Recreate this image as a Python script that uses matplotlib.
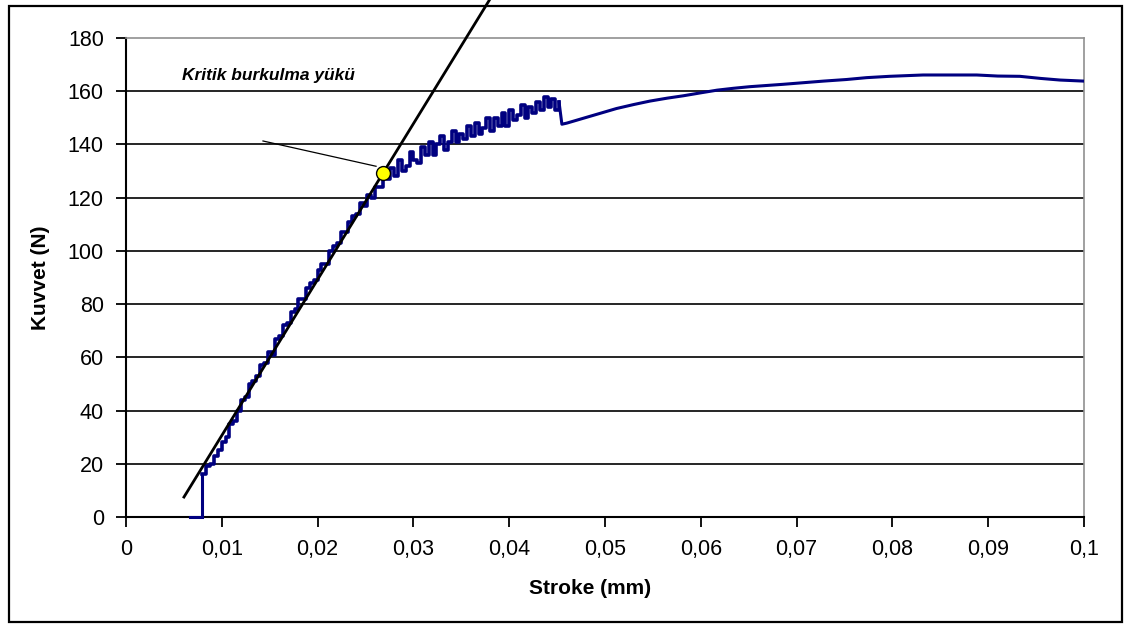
import matplotlib
matplotlib.use("Agg")
import matplotlib.pyplot as plt
from matplotlib.patches import Rectangle

plt.rcParams['font.family'] = ['Liberation Sans', 'DejaVu Sans']

# ---- data ----
zero_stroke = [0.0067, 0.0079]
zero_force = [0.0, 0.0]

rise_stroke = [0.0080, 0.0084, 0.0088, 0.0092, 0.0096, 0.0100, 0.0104, 0.0108, 0.0112, 0.0116,
               0.0120, 0.0124, 0.0128, 0.0132, 0.0136, 0.0140, 0.0144, 0.0148, 0.0152, 0.0156,
               0.0160, 0.0164, 0.0168, 0.0172, 0.0176, 0.0180, 0.0184, 0.0188, 0.0192, 0.0196,
               0.0200, 0.0204, 0.0208, 0.0212, 0.0216, 0.0220, 0.0224, 0.0228, 0.0232, 0.0236,
               0.0240, 0.0244, 0.0248, 0.0252, 0.0256, 0.0260, 0.0264, 0.0268, 0.0272, 0.0276,
               0.0280, 0.0284, 0.0288, 0.0292, 0.0296, 0.0300, 0.0304, 0.0308, 0.0312, 0.0316,
               0.0320, 0.0324, 0.0328, 0.0332, 0.0336, 0.0340, 0.0344, 0.0348, 0.0352, 0.0356,
               0.0360, 0.0364, 0.0368, 0.0372, 0.0376, 0.0380, 0.0384, 0.0388, 0.0392, 0.0396,
               0.0400, 0.0404, 0.0408, 0.0412, 0.0416, 0.0420, 0.0424, 0.0428, 0.0432, 0.0436,
               0.0440, 0.0444, 0.0448, 0.0452]
rise_force = [16, 19, 20, 23, 25, 28, 30, 35, 36, 40,
              44, 45, 50, 51, 53, 57, 58, 62, 61, 67,
              68, 72, 73, 77, 78, 82, 82, 86, 88, 89,
              93, 95, 95, 100, 102, 103, 107, 107, 111, 113,
              114, 118, 117, 121, 120, 124, 124, 128, 127, 131,
              128, 134, 130, 132, 137, 134, 133, 139, 136, 141,
              136, 140, 143, 138, 141, 145, 141, 144, 142, 147,
              143, 148, 144, 146, 150, 145, 150, 147, 152, 147,
              153, 149, 151, 155, 150, 154, 152, 156, 153, 158,
              154, 157, 153, 156]

post_stroke = [0.0455, 0.0460, 0.0477, 0.0495, 0.0512, 0.0530, 0.0547, 0.0565, 0.0582, 0.0600,
               0.0617, 0.0634, 0.0651, 0.0686, 0.0728, 0.0752, 0.0773, 0.0797, 0.0832, 0.0888,
               0.0910, 0.0933, 0.0955, 0.0975, 0.1000]
post_force = [147.6, 148.0, 149.8, 151.7, 153.5, 155.0, 156.3, 157.4, 158.3, 159.4,
              160.4, 161.1, 161.7, 162.6, 163.8, 164.4, 165.1, 165.6, 166.1, 166.1,
              165.7, 165.6, 164.8, 164.2, 163.8]

fit_stroke = [0.00605, 0.0384]
fit_force = [7.5, 197.0]

crit_stroke = 0.0268
crit_force = 129.3
leader_stroke = [0.0143, 0.0261]
leader_force = [141.3, 131.8]
label_text = "Kritik burkulma yükü"
label_stroke = 0.00582
label_force = 164.2

x_ticks = [0, 0.01, 0.02, 0.03, 0.04, 0.05, 0.06, 0.07, 0.08, 0.09, 0.1]
x_tick_labels = ["0", "0,01", "0,02", "0,03", "0,04", "0,05", "0,06", "0,07", "0,08", "0,09", "0,1"]
y_ticks = [0, 20, 40, 60, 80, 100, 120, 140, 160, 180]

# ---- figure ----
fig = plt.figure(figsize=(11.28, 6.24), dpi=100)
ax = fig.add_axes([126 / 1128, 1 - 517 / 624, (1084 - 126) / 1128, (517 - 38) / 624])

ax.set_xlim(0, 0.1)
ax.set_ylim(0, 180)
ax.set_xticks(x_ticks)
ax.set_xticklabels(x_tick_labels)
ax.set_yticks(y_ticks)

for yv in y_ticks[1:-1]:
    ax.axhline(yv, color='black', lw=1.2, zorder=1)

curve_color = '#000080'
ax.plot(zero_stroke, zero_force, color=curve_color, lw=2.2, zorder=3, clip_on=False)
ax.plot([zero_stroke[-1], zero_stroke[-1]], [zero_force[-1], rise_force[0]], color=curve_color,
        lw=2.2, zorder=3)
ax.plot([zero_stroke[-1]] + rise_stroke, [rise_force[0]] + rise_force, color=curve_color,
        lw=2.6, zorder=3, drawstyle='steps-post')
ax.plot([rise_stroke[-1]] + post_stroke, [rise_force[-1]] + post_force, color=curve_color,
        lw=2.2, zorder=3)

ax.plot(fit_stroke, fit_force, color='black', lw=2.0, zorder=4, clip_on=False)
ax.plot(leader_stroke, leader_force, color='black', lw=0.9, zorder=4)
ax.plot([crit_stroke], [crit_force], 'o', color='#FFFF00', markeredgecolor='black',
        markersize=10, markeredgewidth=1.0, zorder=5)
ax.text(label_stroke, label_force, label_text, fontsize=12.5, fontweight='bold',
        fontstyle='italic', va='baseline', ha='left', zorder=5)

for s in ['left', 'bottom']:
    ax.spines[s].set_color('black')
    ax.spines[s].set_linewidth(1.5)
for s in ['top', 'right']:
    ax.spines[s].set_color('#909090')
    ax.spines[s].set_linewidth(1.2)

ax.tick_params(axis='both', direction='out', length=7, width=1.3, labelsize=15.5, pad=9,
               color='black')

fig.text(40 / 1128, 1 - 278 / 624, "Kuvvet (N)", rotation=90, fontsize=15,
         fontweight='bold', ha='center', va='center')
fig.text(590 / 1128, 1 - 588 / 624, "Stroke (mm)", fontsize=15,
         fontweight='bold', ha='center', va='center')

fig.patches.append(Rectangle((8.5 / 1128, 1 - 622 / 624), 1113 / 1128, 616 / 624,
                             transform=fig.transFigure, fill=False, edgecolor='black',
                             lw=1.6, zorder=10))

fig.savefig("out.png", dpi=100)
